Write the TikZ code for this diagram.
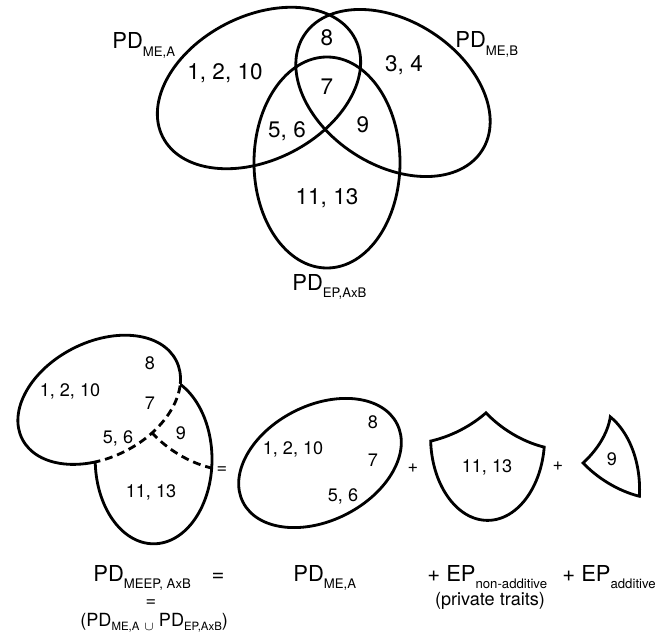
\documentclass[tikz,border=0pt]{standalone}
\usepackage{fontspec}
\setmainfont{TeX Gyre Heros}

\tikzset{
  venn/.style={line width=1.6pt},
  inner/.style={line width=3.2pt},
  cut/.style={venn, dash pattern=on 4.5pt off 2.8pt},
  big/.style={font=\fontsize{12.5}{14}\selectfont, inner sep=0pt},
  num/.style={font=\fontsize{12.8}{14}\selectfont, inner sep=0pt},
  small/.style={font=\fontsize{10.3}{12}\selectfont, inner sep=0pt},
}
\newcommand{\lowsub}[1]{\raisebox{-4pt}{\fontsize{7.5}{8}\selectfont #1}}
\newcommand{\tinysub}[1]{\raisebox{-2.5pt}{\fontsize{6.5}{7}\selectfont #1}}
% the three sets of the top diagram
\newcommand{\meA}{{[rotate around={27:(5.18,10.9)}] (7.34,10.9) arc[start angle=0,end angle=360,x radius=2.16,y radius=1.44] -- cycle}}
\newcommand{\meB}{{[rotate around={-33:(7.86,10.8)}] (9.98,10.8) arc[start angle=0,end angle=360,x radius=2.12,y radius=1.44] -- cycle}}
\newcommand{\epAB}{(8.0,9.41) arc[start angle=0,end angle=360,x radius=1.46,y radius=2.11] -- cycle}
\newcommand{\allround}{(-20,-20) -- (-20,40) -- (40,40) -- (40,-20) -- cycle}

\begin{document}
\begin{tikzpicture}
  \useasboundingbox (0,0) rectangle (13.24,12.66);
  % Top: the three sets
  \draw[venn] \meA;
  \draw[venn] \meB;
  \draw[venn] \epAB;
  \node[num] (t8) at (6.54,11.9) {8};
  \node[num] (t7) at (6.54,10.92) {7};
  \node[num] (t1210) at (4.5,11.2) {1, 2, 10};
  \node[num] (t34) at (8.08,11.36) {3, 4};
  \node[num] (t56) at (5.74,10.04) {5, 6};
  \node[num] (t9) at (7.26,10.16) {9};
  \node[num] (t1113) at (6.54,8.7) {11, 13};
  \node[big, anchor=base west] (pdA) at (2.24,11.68) {PD\lowsub{ME,A}};
  \node[big, anchor=base west] (pdB) at (9.1,11.7) {PD\lowsub{ME,B}};
  \node[big, anchor=base west] (pdEP) at (5.84,6.86) {PD\lowsub{EP,AxB}};

  % Bottom left: union of A and EP
  \begin{scope}[shift={(-2.16,-4.056)}, scale=0.8]
    \begin{scope}[even odd rule]
      \clip \allround \epAB;
      \draw[venn] \meA;
    \end{scope}
    \begin{scope}[even odd rule]
      \clip \allround \meA;
      \draw[venn] \epAB;
    \end{scope}
    \begin{scope}
      \clip \epAB;
      \draw[cut] \meA;
    \end{scope}
    \begin{scope}[even odd rule]
      \clip \epAB;
      \clip \allround \meA;
      \draw[cut] \meB;
    \end{scope}
  \end{scope}
  \node[small] (u8) at (3.0,5.4) {8};
  \node[small] (u1210) at (1.4,4.84) {1, 2, 10};
  \node[small] (u7) at (3.0,4.6) {7};
  \node[small] (u56) at (2.36,3.9) {5, 6};
  \node[small] (u9) at (3.62,4.0) {9};
  \node[small] (u1113) at (3.02,2.82) {11, 13};
  \node[small] (eq1) at (4.44,3.26) {=};

  % PD ME,A alone
  \begin{scope}[shift={(2.256,-5.32)}, scale=0.8]
    \draw[venn] \meA;
  \end{scope}
  \node[small] (m8) at (7.46,4.22) {8};
  \node[small] (m1210) at (5.86,3.68) {1, 2, 10};
  \node[small] (m7) at (7.46,3.46) {7};
  \node[small] (m56) at (6.86,2.74) {5, 6};
  \node[small] (plus1) at (8.26,3.3) {+};

  % non-additive part
  \begin{scope}[shift={(4.52,-3.616)}, scale=0.8, even odd rule]
    \clip \epAB;
    \clip \allround \meA;
    \clip \allround \meB;
    \draw[inner] \meA \meB \epAB;
  \end{scope}
  \node[small] (s1113) at (9.74,3.32) {11, 13};
  \node[small] (plus2) at (11.16,3.34) {+};

  % additive part
  \begin{scope}[shift={(6.42,-4.656)}, scale=0.8, even odd rule]
    \clip \epAB;
    \clip \meB;
    \clip \allround \meA;
    \draw[inner] \meA \meB \epAB;
  \end{scope}
  \node[small] (a9) at (12.24,3.48) {9};

  % Equation
  \node[big, anchor=base west] (meep) at (1.86,1.04) {PD\lowsub{MEEP, AxB}};
  \node[big, anchor=base] (eq2) at (4.36,1.04) {=};
  \node[big, anchor=base west] (rhsA) at (5.86,1.04) {PD\lowsub{ME,A}};
  \node[big, anchor=base west] (nonadd) at (8.54,1.04) {+ EP\lowsub{non-additive}};
  \node[big, anchor=base west] (add) at (11.24,1.04) {+ EP\lowsub{additive}};
  \node[small] (priv) at (9.8,0.64) {(private traits)};
  \node[small] (eq3) at (3.02,0.6) {=};
  \node[small, anchor=base west] (union) at (1.6,0.14)
    {(PD\tinysub{ME,A} \raisebox{-2.5pt}{\fontsize{7}{8}\selectfont$\cup$} PD\tinysub{EP,AxB})};
\end{tikzpicture}
\end{document}
